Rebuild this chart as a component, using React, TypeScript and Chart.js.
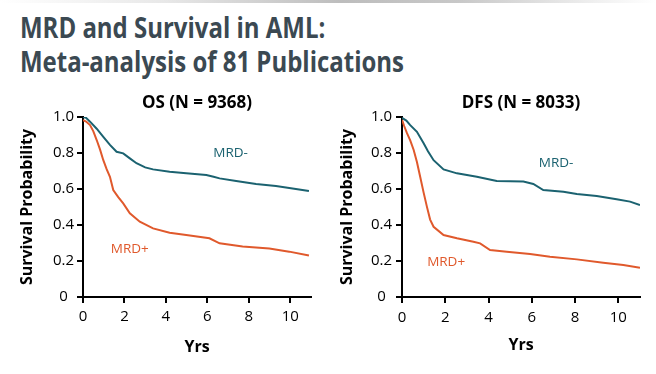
import React, { useEffect, useRef } from 'react';
import { Chart, registerables } from 'chart.js';
Chart.register(...registerables);

// ---------- text ----------
const TITLE_LINES = ['MRD and Survival in AML:', 'Meta-analysis of 81 Publications'];
const OS_TITLE = 'OS (N = 9368)';
const DFS_TITLE = 'DFS (N = 8033)';
const X_TITLE = 'Yrs';
const Y_TITLE = 'Survival Probability';
const NEG_LABEL = 'MRD-';
const POS_LABEL = 'MRD+';

// ---------- ticks ----------
const X_TICKS = [0, 2, 4, 6, 8, 10];
const Y_TICKS = [0, 0.2, 0.4, 0.6, 0.8, 1.0];

// ---------- data: OS ----------
const osNegX = [0, 0.15, 0.34, 0.66, 0.98, 1.3, 1.62, 1.94, 2.26, 2.58, 3.0, 3.38, 4.18, 4.98, 5.95, 6.3, 6.59, 7.39, 8.35, 9.31, 10.27, 10.9];
const osNegY = [1.0, 0.995, 0.974, 0.935, 0.89, 0.845, 0.807, 0.798, 0.77, 0.743, 0.72, 0.709, 0.696, 0.687, 0.678, 0.668, 0.659, 0.644, 0.628, 0.617, 0.6, 0.589];
const osPosX = [0, 0.15, 0.34, 0.5, 0.66, 0.82, 0.98, 1.14, 1.3, 1.46, 1.7, 1.94, 2.26, 2.74, 3.38, 4.18, 4.98, 6.1, 6.59, 7.7, 8.99, 9.95, 10.9];
const osPosY = [0.983, 0.975, 0.955, 0.92, 0.872, 0.82, 0.76, 0.71, 0.668, 0.594, 0.555, 0.52, 0.465, 0.418, 0.381, 0.357, 0.344, 0.326, 0.298, 0.28, 0.27, 0.252, 0.23];

// ---------- data: DFS ----------
const dfsNegX = [0, 0.2, 0.38, 0.69, 1.0, 1.2, 1.46, 1.92, 2.54, 3.46, 4.38, 5.61, 6.07, 6.53, 7.46, 8.08, 9.0, 9.92, 10.54, 11.0];
const dfsNegY = [0.995, 0.98, 0.955, 0.918, 0.854, 0.81, 0.76, 0.709, 0.687, 0.668, 0.644, 0.641, 0.628, 0.594, 0.585, 0.572, 0.561, 0.543, 0.53, 0.511];
const dfsPosX = [0, 0.1, 0.23, 0.38, 0.54, 0.69, 0.84, 1.0, 1.15, 1.3, 1.46, 1.92, 2.54, 3.3, 3.61, 4.07, 4.84, 5.92, 6.84, 8.08, 9.3, 10.23, 11.0];
const dfsPosY = [0.985, 0.95, 0.91, 0.87, 0.817, 0.75, 0.668, 0.58, 0.502, 0.43, 0.39, 0.344, 0.326, 0.307, 0.298, 0.261, 0.252, 0.239, 0.224, 0.209, 0.19, 0.178, 0.163];

// ---------- label anchors (data units) ----------
const OS_NEG_AT = [7.12, 0.8];
const OS_POS_AT = [2.26, 0.267];
const DFS_NEG_AT = [7.12, 0.744];
const DFS_POS_AT = [2.04, 0.196];

const NEG_COLOR = '#1b6270';
const POS_COLOR = '#e0592c';
const FONT = '"Open Sans", "DejaVu Sans", sans-serif';

function pts(xs: number[], ys: number[]) {
  return xs.map((x, i) => ({ x, y: ys[i] }));
}

type Geom = {
  yWidth: number; rightPad: number; yTitlePad: number; yTickPad: number;
  xTickPad: number; xTitlePad: number;
};

function KMChart(props: {
  left: number; title: string;
  negX: number[]; negY: number[]; posX: number[]; posY: number[];
  negAt: number[]; posAt: number[]; geom: Geom;
}) {
  const ref = useRef<HTMLCanvasElement | null>(null);
  useEffect(() => {
    const g = props.geom;
    const labelPlugin = {
      id: 'curveLabels',
      afterDatasetsDraw(chart: any) {
        const ctx = chart.ctx;
        const xs = chart.scales.x, ys = chart.scales.y;
        const area = chart.chartArea;
        ctx.save();
        ctx.textAlign = 'center';
        ctx.textBaseline = 'middle';
        ctx.font = `bold 17px ${FONT}`;
        ctx.fillStyle = '#000';
        ctx.fillText(props.title, (area.left + area.right) / 2, 15);
        ctx.font = `13.5px ${FONT}`;
        ctx.fillStyle = NEG_COLOR;
        ctx.fillText(NEG_LABEL, xs.getPixelForValue(props.negAt[0]), ys.getPixelForValue(props.negAt[1]));
        ctx.fillStyle = POS_COLOR;
        ctx.fillText(POS_LABEL, xs.getPixelForValue(props.posAt[0]), ys.getPixelForValue(props.posAt[1]));
        ctx.restore();
      },
    };
    const chart = new Chart(ref.current as HTMLCanvasElement, {
      type: 'line',
      data: {
        datasets: [
          { label: NEG_LABEL, data: pts(props.negX, props.negY), borderColor: NEG_COLOR, borderWidth: 2, pointRadius: 0, tension: 0 },
          { label: POS_LABEL, data: pts(props.posX, props.posY), borderColor: POS_COLOR, borderWidth: 2, pointRadius: 0, tension: 0 },
        ],
      },
      options: {
        animation: false,
        responsive: false,
        layout: { padding: { left: 0, right: g.rightPad, top: 29, bottom: 0 } },
        plugins: {
          legend: { display: false },
          tooltip: { enabled: false },
          title: { display: false },
        },
        scales: {
          x: {
            type: 'linear', min: 0, max: 11,
            afterBuildTicks: (s: any) => { s.ticks = X_TICKS.map((v) => ({ value: v })); },
            afterFit: (s: any) => { s.height = 77; },
            ticks: { color: '#000', font: { family: FONT, size: 15 }, padding: g.xTickPad, maxRotation: 0 },
            grid: { drawOnChartArea: false, drawTicks: true, tickLength: 6, color: '#000', lineWidth: 2 },
            border: { display: true, color: '#000', width: 2 },
            title: { display: true, text: X_TITLE, color: '#000', font: { family: FONT, size: 16, weight: 'bold' }, padding: { top: 0, bottom: g.xTitlePad } },
          },
          y: {
            type: 'linear', min: 0, max: 1,
            afterBuildTicks: (s: any) => { s.ticks = Y_TICKS.map((v) => ({ value: v })); },
            afterFit: (s: any) => { s.width = g.yWidth; },
            ticks: {
              color: '#000', font: { family: FONT, size: 15 }, padding: g.yTickPad, crossAlign: 'center',
              callback: (v: any) => (v === 0 ? '0' : Number(v).toFixed(1)),
            },
            grid: { drawOnChartArea: false, drawTicks: true, tickLength: 6, color: '#000', lineWidth: 2 },
            border: { display: true, color: '#000', width: 2 },
            title: { display: true, text: Y_TITLE, color: '#000', font: { family: FONT, size: 16, weight: 'bold' }, padding: { top: g.yTitlePad, bottom: 0 } },
          },
        },
      } as any,
      plugins: [labelPlugin],
    });
    return () => chart.destroy();
  }, []);
  return (
    <canvas ref={ref} width={328} height={286}
      style={{ position: 'absolute', left: props.left, top: 88, width: 328, height: 286 }} />
  );
}

function titleScale(): number {
  const c = document.createElement('canvas').getContext('2d');
  if (!c) return 1;
  c.font = `bold 28px ${FONT}`;
  const w = c.measureText(TITLE_LINES[1]).width;
  return w > 0 ? 384 / w : 1;
}

export default function App() {
  const k = titleScale();
  const lineStyle = (top: number): React.CSSProperties => ({
    position: 'absolute', left: 20, top, fontFamily: FONT, fontWeight: 700, fontSize: 28,
    lineHeight: '28px', color: '#3b4952', whiteSpace: 'nowrap',
    transform: `scaleX(${k})`, transformOrigin: 'left top',
  });
  return (
    <div style={{ position: 'fixed', left: 0, top: 0, width: 656, height: 374, background: '#fff', overflow: 'hidden' }}>
      <div style={{ position: 'absolute', left: 0, top: 0, width: 656, height: 3,
        background: 'linear-gradient(to right, #fff 0%, #e8e8e8 25%, #bdbdbd 52%, #c8c8c8 70%, #f2f2f2 92%, #fff 100%)' }} />
      <div style={lineStyle(13)}>{TITLE_LINES[0]}</div>
      <div style={lineStyle(47)}>{TITLE_LINES[1]}</div>
      <KMChart left={0} title={OS_TITLE} negX={osNegX} negY={osNegY} posX={osPosX} posY={osPosY}
        negAt={OS_NEG_AT} posAt={OS_POS_AT}
        geom={{ yWidth: 83, rightPad: 17, yTitlePad: 18, yTickPad: 3, xTickPad: 5, xTitlePad: 17 }} />
      <KMChart left={328} title={DFS_TITLE} negX={dfsNegX} negY={dfsNegY} posX={dfsPosX} posY={dfsPosY}
        negAt={DFS_NEG_AT} posAt={DFS_POS_AT}
        geom={{ yWidth: 74, rightPad: 16, yTitlePad: 10, yTickPad: 4, xTickPad: 6, xTitlePad: 19 }} />
    </div>
  );
}
